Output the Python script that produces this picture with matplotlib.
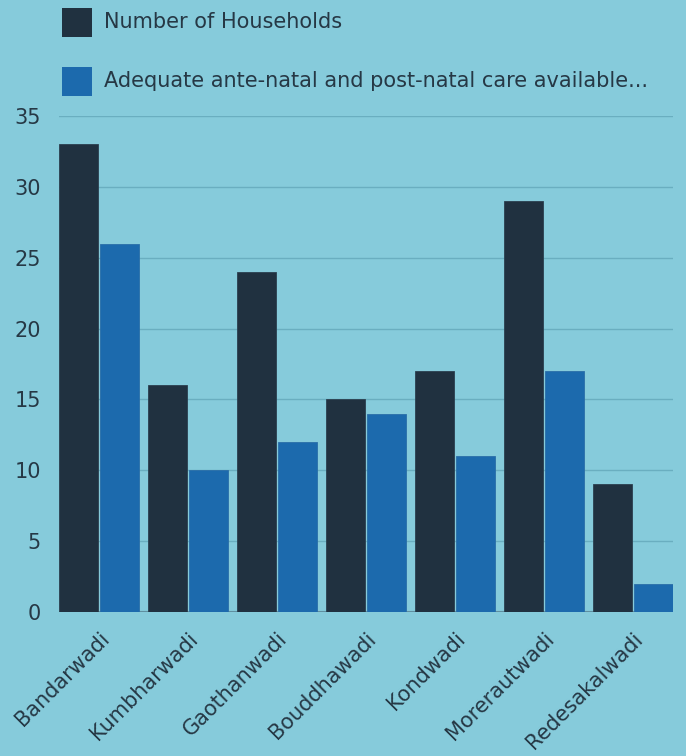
import matplotlib
matplotlib.use("Agg")
import matplotlib.pyplot as plt
from matplotlib.patches import Rectangle
import numpy as np

categories = ["Bandarwadi", "Kumbharwadi", "Gaothanwadi", "Bouddhawadi", "Kondwadi", "Morerautwadi", "Redesakalwadi"]
households = [33, 16, 24, 15, 17, 29, 9]
care = [26, 10, 12, 14, 11, 17, 2]
series_names = ["Number of Households", "Adequate ante-natal and post-natal care available..."]
yticks = [0, 5, 10, 15, 20, 25, 30, 35]

BG = "#86cbdb"
DARK = "#203140"
BLUE = "#1c6aad"
TXT = "#263845"
GRID = "#6aaec0"

plt.rcParams['font.family'] = ['DejaVu Sans']

fig = plt.figure(figsize=(6.86, 7.56), dpi=100, facecolor=BG)
ax = fig.add_axes([59/686, 144/756, 614/686, 496/756])
ax.set_facecolor(BG)

x = np.arange(len(categories))
w = 39/89
off = 20.5/89
ax.bar(x - off, households, width=w, color=DARK, edgecolor="#2b4050", linewidth=0.6, zorder=3)
ax.bar(x + off, care, width=w, color=BLUE, edgecolor="#2a6ea8", linewidth=0.6, zorder=3)

ax.set_xlim(-40/89, 574/89)
ax.set_ylim(0, 35)
ax.set_yticks(yticks)
ax.set_yticklabels([str(t) for t in yticks], fontsize=15, color=TXT)
ax.grid(axis="y", color=GRID, linewidth=1, zorder=0)
ax.axhline(0, color="#5f8fa0", linewidth=1.5, zorder=2)
for s in ax.spines.values():
    s.set_visible(False)
ax.tick_params(axis="both", length=0)
ax.tick_params(axis="y", pad=13)
ax.set_xticks(x)
ax.set_xticklabels(categories, rotation=45, ha="right", rotation_mode="anchor",
                   fontsize=15, color=TXT)
ax.tick_params(axis="x", pad=12)

# legend
fig.patches.append(Rectangle((62/686, 1 - 37/756), 30/686, 29/756, transform=fig.transFigure,
                             facecolor=DARK, edgecolor="none"))
fig.patches.append(Rectangle((62/686, 1 - 96/756), 30/686, 29/756, transform=fig.transFigure,
                             facecolor=BLUE, edgecolor="none"))
fig.text(104/686, 1 - 22/756, series_names[0], fontsize=15, color=TXT, va="center", ha="left")
fig.text(104/686, 1 - 81/756, series_names[1], fontsize=15, color=TXT, va="center", ha="left")

fig.savefig("out.png", dpi=100, facecolor=BG)
